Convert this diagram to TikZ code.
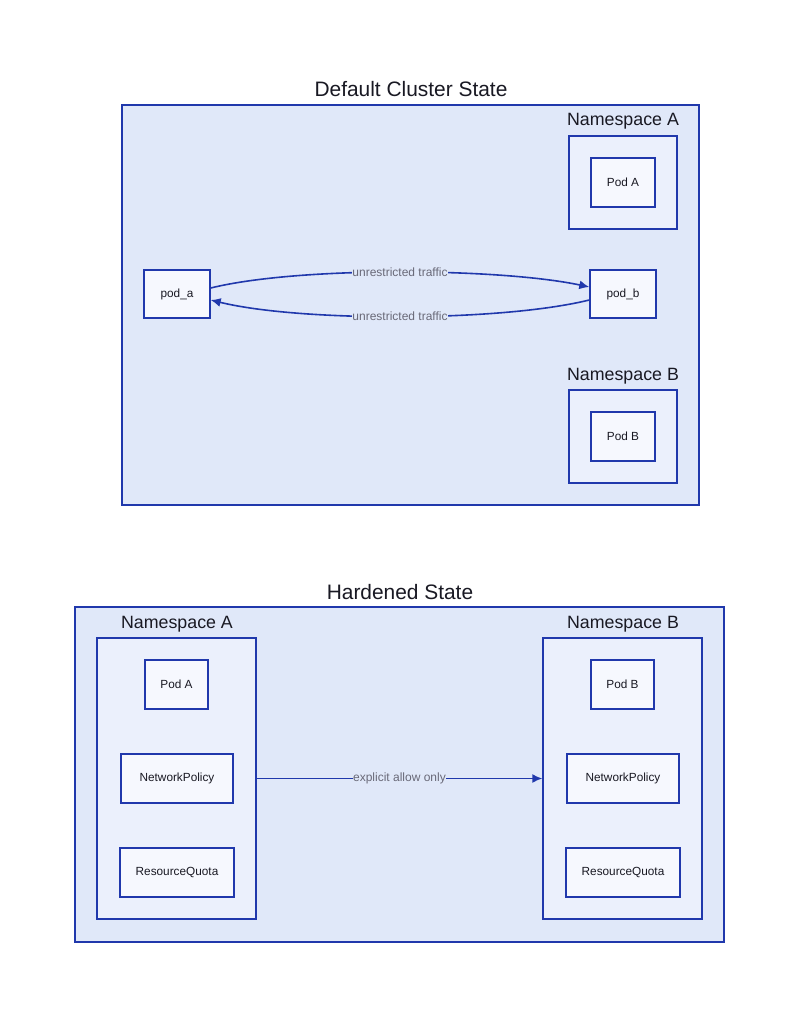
\documentclass[tikz,border=0pt]{standalone}
\usepackage{fontspec}
\setmainfont{Liberation Sans}
\usetikzlibrary{arrows.meta}
\definecolor{bordc}{RGB}{32,56,172}
\definecolor{clfill}{RGB}{224,232,249}
\definecolor{nsfill}{RGB}{235,240,252}
\definecolor{podfill}{RGB}{246,248,254}
\definecolor{txtc}{RGB}{25,25,35}
\definecolor{lblc}{RGB}{105,105,120}
\tikzset{
  cluster/.style={draw=bordc,fill=clfill,line width=1.4pt},
  nsbox/.style={draw=bordc,fill=nsfill,line width=1.4pt},
  podbox/.style={draw=bordc,fill=podfill,line width=1.4pt,font=\fontsize{11.8}{14}\selectfont,text=txtc},
  ttl/.style={font=\fontsize{20.9}{25}\selectfont,text=txtc},
  nslbl/.style={font=\fontsize{17.8}{21}\selectfont,text=txtc},
  edge/.style={draw=bordc,line width=1.6pt,-{Latex[length=10pt,width=9pt]}},
  elbl/.style={font=\fontsize{12}{14}\selectfont,text=lblc,fill=clfill,inner sep=0.5pt}
}
\begin{document}
\begin{tikzpicture}[x=1pt,y=-1pt]
\useasboundingbox[fill=white] (0,0) rectangle (800,1018);
% ---------- Default Cluster State ----------
\node[ttl] (t1) at (411,89) {Default Cluster State};
\node[cluster,minimum width=577pt,minimum height=400pt,inner sep=0pt] (c1) at (410.5,305) {};
\node[nslbl] (nsal) at (623,121.5) {Namespace A};
\node[nsbox,minimum width=108pt,minimum height=93pt,inner sep=0pt] (nsa) at (623,182.5) {};
\node[podbox,minimum width=64pt,minimum height=49pt,inner sep=0pt] (poda) at (623,182.5) {Pod A};
\node[nslbl] (nsbl) at (623,376.5) {Namespace B};
\node[nsbox,minimum width=108pt,minimum height=93pt,inner sep=0pt] (nsb) at (623,436.5) {};
\node[podbox,minimum width=64pt,minimum height=49pt,inner sep=0pt] (podb) at (623,436.5) {Pod B};
\node[podbox,minimum width=66pt,minimum height=48pt,inner sep=0pt] (pa) at (177,294) {pod\_a};
\node[podbox,minimum width=66pt,minimum height=48pt,inner sep=0pt] (pb) at (623,294) {pod\_b};
\draw[edge] ([yshift=6pt]pa.east) .. controls (300,266) and (500,268) .. ([yshift=7pt]pb.west)
  node[elbl,pos=0.5] {unrestricted traffic};
\draw[edge] ([yshift=-6pt]pb.west) .. controls (500,322) and (300,322) .. ([yshift=-6pt]pa.east)
  node[elbl,pos=0.5] {unrestricted traffic};
% ---------- Hardened State ----------
\node[ttl] (t2) at (400,592) {Hardened State};
\node[cluster,minimum width=649pt,minimum height=335pt,inner sep=0pt] (c2) at (399.5,774.5) {};
\node[nslbl] (hnsal) at (177,624.5) {Namespace A};
\node[nsbox,minimum width=159pt,minimum height=281pt,inner sep=0pt] (hnsa) at (176.5,778.5) {};
\node[podbox,minimum width=63pt,minimum height=49pt,inner sep=0pt] (hpa) at (176.5,684.5) {Pod A};
\node[podbox,minimum width=112pt,minimum height=49pt,inner sep=0pt] (hnpa) at (177,778.5) {NetworkPolicy};
\node[podbox,minimum width=114pt,minimum height=49pt,inner sep=0pt] (hrqa) at (177,872.5) {ResourceQuota};
\node[nslbl] (hnsbl) at (623,624.5) {Namespace B};
\node[nsbox,minimum width=159pt,minimum height=281pt,inner sep=0pt] (hnsb) at (622.5,778.5) {};
\node[podbox,minimum width=63pt,minimum height=49pt,inner sep=0pt] (hpb) at (622.5,684.5) {Pod B};
\node[podbox,minimum width=112pt,minimum height=49pt,inner sep=0pt] (hnpb) at (623,778.5) {NetworkPolicy};
\node[podbox,minimum width=114pt,minimum height=49pt,inner sep=0pt] (hrqb) at (623,872.5) {ResourceQuota};
\draw[edge] (hnsa.east |- hnpa) -- (hnsb.west |- hnpb) node[elbl,pos=0.5] {explicit allow only};
\end{tikzpicture}
\end{document}
